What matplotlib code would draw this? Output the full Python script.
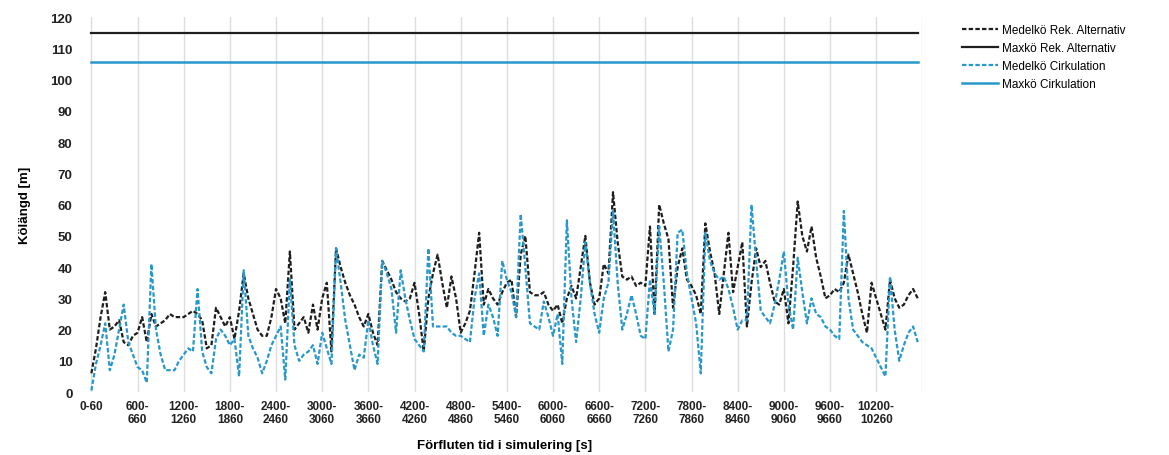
import numpy as np
import matplotlib
matplotlib.use("Agg")
import matplotlib.pyplot as plt

# =====================
#   DATA (one value per 60 s interval)
# =====================
medel_rek = [
    6, 14, 24, 32, 20, 21, 23, 16, 15, 18,
    19, 24, 16, 25, 21, 22, 23, 25, 24, 24,
    24, 25, 26, 25, 23, 14, 15, 27, 24, 21,
    24, 17, 26, 38, 30, 25, 20, 18, 18, 24,
    33, 30, 22, 45, 20, 22, 24, 19, 28, 20,
    30, 35, 13, 46, 40, 35, 31, 28, 24, 21,
    25, 19, 15, 42, 39, 36, 32, 30, 29, 30,
    35, 25, 13, 30, 38, 44, 35, 27, 37, 30,
    19, 22, 26, 38, 51, 28, 33, 30, 28, 32,
    35, 36, 24, 44, 50, 32, 31, 31, 32, 28,
    26, 28, 22, 30, 34, 30, 40, 50, 35, 28,
    30, 41, 38, 64, 48, 37, 36, 37, 34, 35,
    34, 53, 25, 60, 54, 49, 27, 40, 46, 36,
    34, 31, 25, 54, 45, 38, 25, 38, 51, 32,
    40, 48, 21, 35, 46, 40, 42, 35, 29, 28,
    33, 22, 40, 61, 50, 45, 53, 43, 37, 30,
    31, 33, 32, 35, 44, 38, 32, 25, 19, 35,
    30, 25, 20, 36, 30, 27, 28, 31, 33, 30,
]
medel_cirk = [
    0.5, 9, 15, 22, 7, 12, 20, 28, 16, 12,
    8, 7, 3, 41, 20, 12, 7, 7, 7, 10,
    12, 14, 13, 33, 13, 8, 6, 17, 20, 18,
    15, 17, 5, 39, 18, 14, 11, 6, 10, 15,
    18, 21, 4, 36, 15, 10, 12, 13, 15, 9,
    19, 14, 9, 46, 35, 23, 15, 7, 12, 11,
    23, 15, 9, 42, 38, 33, 19, 39, 30, 23,
    17, 15, 13, 46, 21, 21, 21, 21, 19, 18,
    18, 17, 16, 30, 38, 18, 28, 24, 18, 42,
    36, 32, 24, 57, 40, 22, 21, 20, 29, 24,
    18, 25, 9, 55, 30, 16, 30, 48, 35, 25,
    19, 30, 35, 58, 35, 20, 25, 31, 25, 18,
    17, 36, 25, 53, 35, 13, 20, 51, 52, 38,
    30, 22, 6, 51, 42, 38, 36, 37, 33, 27,
    20, 23, 23, 60, 42, 26, 24, 22, 28, 36,
    45, 28, 20, 43, 32, 22, 30, 25, 24, 21,
    20, 18, 17, 58, 30, 20, 18, 16, 15, 14,
    11, 8, 5, 37, 20, 10, 15, 19, 21, 16,
]
MAX_REK = 115.0
MAX_CIRK = 105.8

tick_starts = list(range(0, 10260, 600))
tick_labels = ["0-60"] + [f"{s}-\n{s + 60}" for s in tick_starts[1:]]

labels = ["Medelkö Rek. Alternativ", "Maxkö Rek. Alternativ",
          "Medelkö Cirkulation", "Maxkö Cirkulation"]

# =====================
#   STYLE
# =====================
BLACK = "#1e1e1e"
BLUE = "#2798cc"
plt.rcParams["font.family"] = ["Liberation Sans", "DejaVu Sans"]

n = len(medel_rek)
x = np.arange(n)

fig = plt.figure(figsize=(11.69, 4.56), dpi=100)
ax = fig.add_axes([0.075, 0.138, 0.714, 0.822])

ax.plot(x, medel_rek, color=BLACK, lw=1.6, ls=(0, (2, 1)), label=labels[0])
ax.plot(x, np.full(n, MAX_REK), color=BLACK, lw=1.6, label=labels[1])
ax.plot(x, medel_cirk, color=BLUE, lw=1.6, ls=(0, (2, 1)), label=labels[2])
ax.plot(x, np.full(n, MAX_CIRK), color=BLUE, lw=1.8, label=labels[3])

ax.set_xlim(-0.8, 180)
ax.set_ylim(0, 120)
ax.set_yticks(range(0, 121, 10))
ax.set_xticks(range(0, n, 10))
ax.set_xticklabels(tick_labels, fontsize=8.5, fontweight="bold", color="#222222",
                   linespacing=1.05)
ax.tick_params(axis="y", labelsize=9.5, length=0, pad=11, labelcolor="#222222")
ax.tick_params(axis="x", length=0, pad=6)
for lab in ax.get_yticklabels():
    lab.set_fontweight("bold")

ax.grid(axis="x", color="#dddddd", lw=1)
ax.axvline(180, color="#dddddd", lw=1)
for sp in ax.spines.values():
    sp.set_visible(False)

ax.set_ylabel("Kölängd [m]", fontsize=9.5, fontweight="bold", labelpad=14)
ax.set_xlabel("Förfluten tid i simulering [s]", fontsize=9.5, fontweight="bold",
              labelpad=10)

ax.legend(loc="upper left", bbox_to_anchor=(1.035, 1.009), frameon=False,
          fontsize=8.5, handlelength=3.0, handletextpad=0.4, labelspacing=0.5)

fig.savefig("out.png", dpi=100)
